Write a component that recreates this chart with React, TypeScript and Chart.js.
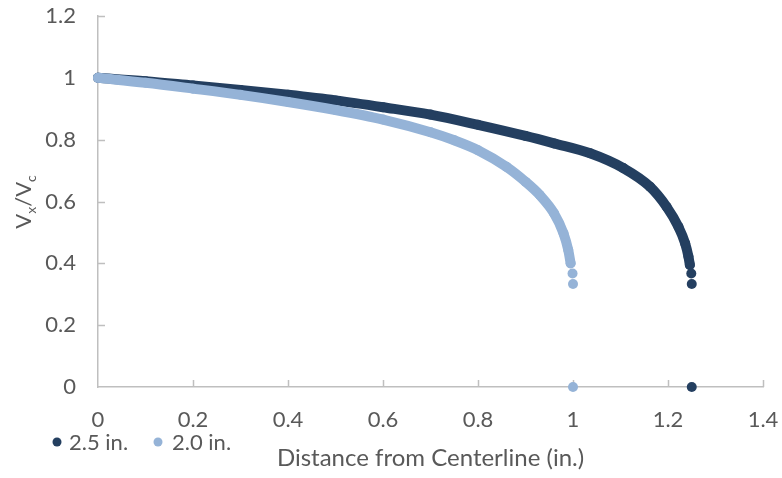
import React, { useEffect, useRef } from "react";
import { Chart, registerables } from "chart.js";

Chart.register(...registerables);

// ---- data ----
const xTicks = [0, 0.2, 0.4, 0.6, 0.8, 1, 1.2, 1.4];
const yTicks = [0, 0.2, 0.4, 0.6, 0.8, 1, 1.2];

const seriesNames = ["2.5 in.", "2.0 in."];

// 2.5 in. pipe (radius 1.25 in.)
const darkX = [0, 0.1, 0.2, 0.3, 0.4, 0.5, 0.6, 0.7, 0.8, 0.9, 0.96, 1.036, 1.106, 1.162, 1.197, 1.222, 1.236, 1.243, 1.246, 1.249, 1.25, 1.25];
const darkY = [1.0, 0.989, 0.975, 0.961, 0.945, 0.927, 0.905, 0.881, 0.848, 0.812, 0.788, 0.756, 0.708, 0.648, 0.583, 0.518, 0.465, 0.422, 0.395, 0.367, 0.333, 0];

// 2.0 in. pipe (radius 1.0 in.)
const lightX = [0, 0.1, 0.2, 0.3, 0.4, 0.5, 0.6, 0.7, 0.75, 0.8, 0.86, 0.9, 0.93, 0.96, 0.98, 0.99, 0.995, 0.999, 1.0, 1.0];
const lightY = [1.0, 0.984, 0.965, 0.945, 0.922, 0.896, 0.865, 0.824, 0.798, 0.766, 0.712, 0.664, 0.621, 0.562, 0.497, 0.443, 0.4, 0.367, 0.333, 0];

// number of trailing points drawn as separate dots (not part of the dense band)
const darkTailDots = 3;
const lightTailDots = 3;

const DARK = "#243f60";
const LIGHT = "#95b3d7";
const TEXT = "#595959";
const AXIS = "#bfbfbf";
const FONT = "Lato, 'Open Sans', sans-serif";

function toPoints(xs: number[], ys: number[]) {
  return xs.map((x, i) => ({ x, y: ys[i] }));
}

const decorPlugin = {
  id: "decor",
  beforeDatasetsDraw(chart: any) {
    const { ctx, scales } = chart;
    const xs = scales.x;
    const ys = scales.y;
    ctx.save();
    ctx.strokeStyle = AXIS;
    ctx.lineWidth = 1.5;
    const y0 = ys.getPixelForValue(0);
    const x0 = xs.getPixelForValue(0);
    xTicks.forEach((v) => {
      if (v === 0) return;
      const px = Math.round(xs.getPixelForValue(v)) + 0.5;
      ctx.beginPath();
      ctx.moveTo(px, y0);
      ctx.lineTo(px, y0 - 7);
      ctx.stroke();
    });
    yTicks.forEach((v) => {
      if (v === 0) return;
      const py = Math.round(ys.getPixelForValue(v)) + 0.5;
      ctx.beginPath();
      ctx.moveTo(x0, py);
      ctx.lineTo(x0 + 7, py);
      ctx.stroke();
    });
    ctx.restore();
  },
  afterDraw(chart: any) {
    const { ctx, chartArea } = chart;
    ctx.save();
    ctx.fillStyle = TEXT;
    // x axis title
    ctx.font = `24px ${FONT}`;
    ctx.textAlign = "center";
    ctx.textBaseline = "middle";
    ctx.fillText("Distance from Centerline (in.)", (chartArea.left + chartArea.right) / 2, 458);

    // y axis title: V_x/V_c
    const big = `22px ${FONT}`;
    const small = `14px ${FONT}`;
    const parts = [
      { t: "V", f: big, dy: 0 },
      { t: "x", f: small, dy: 5 },
      { t: "/V", f: big, dy: 0 },
      { t: "c", f: small, dy: 5 },
    ];
    let total = 0;
    parts.forEach((p) => {
      ctx.font = p.f;
      total += ctx.measureText(p.t).width;
    });
    ctx.translate(31, 202);
    ctx.rotate(-Math.PI / 2);
    ctx.textAlign = "left";
    ctx.textBaseline = "alphabetic";
    let cx = -total / 2;
    parts.forEach((p) => {
      ctx.font = p.f;
      ctx.fillText(p.t, cx, p.dy);
      cx += ctx.measureText(p.t).width;
    });
    ctx.setTransform(1, 0, 0, 1, 0, 0);

    // legend
    const items = [
      { name: seriesNames[0], color: DARK, dotX: 57, textX: 69 },
      { name: seriesNames[1], color: LIGHT, dotX: 158, textX: 172 },
    ];
    ctx.font = `22px ${FONT}`;
    ctx.textAlign = "left";
    ctx.textBaseline = "middle";
    items.forEach((it) => {
      ctx.fillStyle = it.color;
      ctx.beginPath();
      ctx.arc(it.dotX, 442, 4.5, 0, Math.PI * 2);
      ctx.fill();
      ctx.fillStyle = TEXT;
      ctx.fillText(it.name, it.textX, 443);
    });
    ctx.restore();
  },
};

export default function App() {
  const ref = useRef<HTMLCanvasElement | null>(null);

  useEffect(() => {
    if (!ref.current) return;
    const darkLast = darkX.length - 1 - darkTailDots;
    const lightLast = lightX.length - 1 - lightTailDots;
    const chart = new Chart(ref.current, {
      type: "scatter",
      data: {
        datasets: [
          {
            label: seriesNames[0],
            data: toPoints(darkX, darkY),
            showLine: true,
            borderColor: DARK,
            backgroundColor: DARK,
            borderWidth: 10,
            borderCapStyle: "round",
            borderJoinStyle: "round",
            cubicInterpolationMode: "monotone",
            pointRadius: 5,
            pointBorderWidth: 0,
            pointHoverRadius: 5,
            clip: false,
            order: 2,
            segment: {
              borderColor: (c: any) => (c.p1DataIndex > darkLast ? "rgba(0,0,0,0)" : undefined),
            },
          } as any,
          {
            label: seriesNames[1],
            data: toPoints(lightX, lightY),
            showLine: true,
            borderColor: LIGHT,
            backgroundColor: LIGHT,
            borderWidth: 10,
            borderCapStyle: "round",
            borderJoinStyle: "round",
            cubicInterpolationMode: "monotone",
            pointRadius: 5,
            pointBorderWidth: 0,
            pointHoverRadius: 5,
            clip: false,
            order: 1,
            segment: {
              borderColor: (c: any) => (c.p1DataIndex > lightLast ? "rgba(0,0,0,0)" : undefined),
            },
          } as any,
        ],
      },
      options: {
        animation: false,
        responsive: true,
        maintainAspectRatio: false,
        layout: { padding: { top: 16, right: 19, left: 0, bottom: 0 } },
        plugins: {
          legend: { display: false },
          tooltip: { enabled: false },
        },
        scales: {
          x: {
            type: "linear",
            min: 0,
            max: 1.4,
            afterBuildTicks: (s: any) => {
              s.ticks = xTicks.map((v) => ({ value: v }));
            },
            afterFit: (s: any) => {
              s.height = 91;
              s.paddingLeft = 0;
              s.paddingRight = 0;
              s.paddingTop = 0;
              s.paddingBottom = 0;
            },
            ticks: {
              color: TEXT,
              font: { family: FONT, size: 22 },
              padding: 20,
              maxRotation: 0,
              autoSkip: false,
              callback: (v: any) => String(Math.round(v * 10) / 10),
            },
            grid: { display: false, drawTicks: false },
            border: { display: true, color: AXIS, width: 1.5 },
          },
          y: {
            type: "linear",
            min: 0,
            max: 1.2,
            afterBuildTicks: (s: any) => {
              s.ticks = yTicks.map((v) => ({ value: v }));
            },
            afterFit: (s: any) => {
              s.width = 98;
              s.paddingLeft = 0;
              s.paddingRight = 0;
              s.paddingTop = 0;
              s.paddingBottom = 0;
            },
            ticks: {
              color: TEXT,
              font: { family: FONT, size: 22 },
              padding: 22,
              autoSkip: false,
              callback: (v: any) => String(Math.round(v * 10) / 10),
            },
            grid: { display: false, drawTicks: false },
            border: { display: true, color: AXIS, width: 1.5 },
          },
        },
      },
      plugins: [decorPlugin],
    });
    return () => chart.destroy();
  }, []);

  return (
    <div style={{ position: "fixed", left: 0, top: 0, width: 782, height: 478, background: "#fff" }}>
      <canvas ref={ref} />
    </div>
  );
}
